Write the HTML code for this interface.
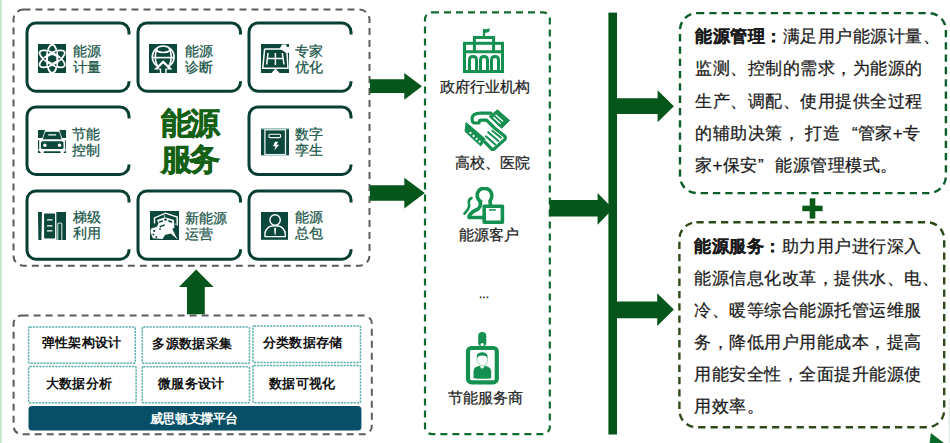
<!DOCTYPE html>
<html><head><meta charset="utf-8"><style>
html,body{margin:0;padding:0;background:#fff;width:950px;height:443px;overflow:hidden}
body{position:relative;font-family:"Liberation Sans",sans-serif}
.t{position:absolute;white-space:nowrap;-webkit-text-stroke:0.25px currentColor}
.c{position:absolute;white-space:nowrap;text-align:center;-webkit-text-stroke:0.25px currentColor}
.ql{display:inline-block;width:17.5px;text-align:right;letter-spacing:0}
.qr{display:inline-block;width:17.5px;text-align:left;letter-spacing:0}
</style></head><body>
<svg width="950" height="443" viewBox="0 0 950 443" style="position:absolute;left:0;top:0">
<rect x="0" y="0" width="1.8" height="443" fill="#c6e5cb"/><rect x="948.5" y="398" width="1.5" height="45" fill="#e3ebe5"/>
<rect x="13.5" y="9.6" width="356.0" height="256.09999999999997" rx="10" ry="10" fill="none" stroke="#5c5c5c" stroke-width="2" stroke-dasharray="7 5"/>
<rect x="13.6" y="315.5" width="358.2" height="118.69999999999999" rx="8" ry="8" fill="none" stroke="#5c5c5c" stroke-width="2" stroke-dasharray="7 5"/>
<g fill="none" stroke="#073f33" stroke-width="3"><path d="M129,34.5 V32 A9,9 0 0 0 120,23 H36 A9,9 0 0 0 27,32 V82.2 A9,9 0 0 0 36,91.2 H120 A9,9 0 0 0 129,82.2 V81.2"/><path d="M240.5,34.5 V32 A9,9 0 0 0 231.5,23 H147 A9,9 0 0 0 138,32 V82.2 A9,9 0 0 0 147,91.2 H231.5 A9,9 0 0 0 240.5,82.2 V81.2"/><path d="M351,34.5 V32 A9,9 0 0 0 342,23 H258 A9,9 0 0 0 249,32 V82.2 A9,9 0 0 0 258,91.2 H342 A9,9 0 0 0 351,82.2 V81.2"/><path d="M129,118.5 V116 A9,9 0 0 0 120,107 H36 A9,9 0 0 0 27,116 V165.4 A9,9 0 0 0 36,174.4 H120 A9,9 0 0 0 129,165.4 V164.4"/><path d="M351,118.5 V116 A9,9 0 0 0 342,107 H258 A9,9 0 0 0 249,116 V165.4 A9,9 0 0 0 258,174.4 H342 A9,9 0 0 0 351,165.4 V164.4"/><path d="M129,202.4 V199.9 A9,9 0 0 0 120,190.9 H36 A9,9 0 0 0 27,199.9 V250.2 A9,9 0 0 0 36,259.2 H120 A9,9 0 0 0 129,250.2 V249.2"/><path d="M240.5,202.4 V199.9 A9,9 0 0 0 231.5,190.9 H147 A9,9 0 0 0 138,199.9 V250.2 A9,9 0 0 0 147,259.2 H231.5 A9,9 0 0 0 240.5,250.2 V249.2"/><path d="M351,202.4 V199.9 A9,9 0 0 0 342,190.9 H258 A9,9 0 0 0 249,199.9 V250.2 A9,9 0 0 0 258,259.2 H342 A9,9 0 0 0 351,250.2 V249.2"/></g>
<g fill="#05561b"><polygon points="196.1,269.4 213.6,287 204.8,287 204.8,314.2 187,314.2 187,287 179,287"/></g>
<g fill="none" stroke="#5cb0ab" stroke-width="1.5" stroke-dasharray="2.2 1">
<rect x="28.6" y="327" width="106.70000000000002" height="36.19999999999999" rx="1" ry="1"/><rect x="142.3" y="327" width="107.19999999999999" height="36.19999999999999" rx="1" ry="1"/><rect x="253" y="326" width="107.5" height="36.60000000000002" rx="1" ry="1"/>
<rect x="28.6" y="366.5" width="107.5" height="36.30000000000001" rx="1" ry="1"/><rect x="142.3" y="366.8" width="107.19999999999999" height="36.0" rx="1" ry="1"/><rect x="253" y="365.5" width="107.5" height="37.30000000000001" rx="1" ry="1"/>
</g>
<rect x="28.5" y="406" width="332.9" height="24.5" rx="3.5" ry="3.5" fill="#064f66"/>
<rect x="425" y="12.3" width="124.79999999999995" height="421.9" rx="7" ry="7" fill="none" stroke="#0f6b2f" stroke-width="2.2" stroke-dasharray="7 5"/>
<rect x="680" y="13.1" width="265.9" height="180.0" rx="17" ry="17" fill="none" stroke="#0b5e2a" stroke-width="2.4" stroke-dasharray="7.3 5"/>
<rect x="679.4" y="222.3" width="264.80000000000007" height="204.89999999999998" rx="17" ry="17" fill="none" stroke="#2f4a1a" stroke-width="2.4" stroke-dasharray="7.3 5"/>
<g fill="#05561b"><polygon points="369.9,79.3 404.3,79.3 404.3,72.9 422,86.2 404.3,99.8 404.3,93 369.9,93"/><polygon points="369.9,185.3 404.3,185.3 404.3,177.7 424.8,193 404.3,208.4 404.3,200.7 369.9,200.7"/><polygon points="549.5,200 597.6,200 597.6,192.9 613,208.7 597.6,224.7 597.6,216.6 549.5,216.6"/><polygon points="614,98.2 657.6,98.2 657.6,90.3 673.9,106.3 657.6,122.2 657.6,114 614,114"/><polygon points="614,301.4 657.2,301.4 657.2,293.3 673.9,309.5 657.2,326 657.2,318.2 614,318.2"/></g>
<rect x="608.4" y="12.6" width="8.6" height="421.9" fill="#05551a"/>
<g fill="#065a16"><rect x="802.3" y="205.7" width="20.3" height="5.5"/><rect x="809.7" y="198.3" width="5.6" height="20.3"/></g>
<polygon points="930.9,433 944,443 929.6,443" fill="#0a6a2a"/>
</svg>
<svg style="position:absolute;left:38.1px;top:43.7px" width="28.4" height="29.6" viewBox="0 0 28.4 29.6"><rect width="28.4" height="29.6" fill="#0b483b"/><ellipse cx="14.2" cy="14.8" rx="5.4" ry="14.2" transform="rotate(0 14.2 14.8)" fill="none" stroke="#fff" stroke-width="1.8"/><ellipse cx="14.2" cy="14.8" rx="5.4" ry="14.2" transform="rotate(60 14.2 14.8)" fill="none" stroke="#fff" stroke-width="1.8"/><ellipse cx="14.2" cy="14.8" rx="5.4" ry="14.2" transform="rotate(120 14.2 14.8)" fill="none" stroke="#fff" stroke-width="1.8"/><polygon points="18.88,17.10 14.20,19.40 9.52,17.10 9.52,12.50 14.20,10.20 18.88,12.50" fill="#0b483b" stroke="#fff" stroke-width="1.1"/><circle cx="21.60" cy="14.80" r="0.8" fill="#0b483b"/><circle cx="17.90" cy="21.21" r="0.8" fill="#0b483b"/><circle cx="10.50" cy="21.21" r="0.8" fill="#0b483b"/><circle cx="6.80" cy="14.80" r="0.8" fill="#0b483b"/><circle cx="10.50" cy="8.39" r="0.8" fill="#0b483b"/><circle cx="17.90" cy="8.39" r="0.8" fill="#0b483b"/></svg>
<svg style="position:absolute;left:148.9px;top:43.9px" width="28.5" height="29.4" viewBox="0 0 28.5 29.4"><rect width="28.5" height="29.4" fill="#0b483b"/><g fill="none" stroke="#fff" stroke-width="1.6"><circle cx="14.2" cy="12.9" r="10.9"/><path d="M3.4,13.6 H25"/><path d="M5.5,5.5 Q14.2,11.5 23,5.5"/><path d="M8.5,3.5 Q4,14 8.5,22"/><path d="M20,3.5 Q24.5,14 20,22"/></g><polygon points="14.2,16.2 23.5,25.6 17.6,25.6 17.6,29.4 10.8,29.4 10.8,25.6 4.9,25.6" fill="#fff"/><polygon points="14.2,19.6 19.3,24.4 16.2,24.4 16.2,29.4 12.2,29.4 12.2,24.4 9.1,24.4" fill="#0b483b"/></svg>
<svg style="position:absolute;left:260.5px;top:43.7px" width="28.4" height="29.5" viewBox="0 0 28.4 29.5"><rect width="28.4" height="29.5" fill="#0b483b"/><g fill="none" stroke="#fff" stroke-width="1.5"><path d="M3.6,5 H22 M26,9 L27,24.2 H1.8 L3.6,5"/><path d="M7,9 L5.7,20.5 M14.4,9 V21 M21.3,9 L23,20.5 M5.8,14.4 H23"/></g><polygon points="10,29.5 14.5,24.5 19,29.5" fill="#fff"/><polygon points="21,0.4 25.8,0.4 28.4,3 28.4,8.8 25.2,9 18.8,4.6" fill="#fff"/><ellipse cx="26.8" cy="1.8" rx="1.6" ry="1.3" fill="#0b483b"/></svg>
<svg style="position:absolute;left:38.1px;top:129.9px" width="28.4" height="23.4" viewBox="0 0 28.4 23.4"><g fill="#0b483b"><path d="M0,0 H7 L4.3,8 H0 Z"/><path d="M28.4,0 H21.4 L24.1,8 H28.4 Z"/><path d="M8.2,1.8 H20.2 Q21.2,1.8 21.6,2.8 L23.6,9.2 H4.8 L6.8,2.8 Q7.2,1.8 8.2,1.8 Z"/><rect x="2.9" y="11.2" width="22.6" height="7.8" rx="1.6"/><rect x="5.7" y="21.3" width="17" height="2.1" rx="1"/><path d="M0,19.8 L3.6,23.4 H0 Z"/><path d="M28.4,19.8 L24.8,23.4 H28.4 Z"/><rect x="0" y="10.2" width="1.2" height="9"/><rect x="27.2" y="10.2" width="1.2" height="9"/></g><rect x="10.1" y="4.3" width="8.2" height="1.3" rx="0.6" fill="#fff"/><circle cx="6.9" cy="15.2" r="1.7" fill="#fff"/><circle cx="21.5" cy="15.2" r="1.7" fill="#fff"/></svg>
<svg style="position:absolute;left:260.5px;top:127.5px" width="28.4" height="28.4" viewBox="0 0 28.4 28.4"><rect width="28.4" height="28.4" fill="#0b483b"/><rect x="0" y="0" width="28.4" height="1.4" fill="#9fc4bc"/><rect x="0" y="27" width="28.4" height="1.4" fill="#9fc4bc"/><rect x="3.9" y="1.8" width="20.6" height="24.8" fill="none" stroke="#e8f0ee" stroke-width="1.3"/><rect x="7.8" y="6.2" width="12" height="3.4" rx="1.7" fill="none" stroke="#fff" stroke-width="1.1"/><polygon points="14,13.8 17.2,13.8 15.4,16.8 18.2,16.8 13.3,22.5 14.6,18.2 12,18.2" fill="#fff"/></svg>
<svg style="position:absolute;left:38.1px;top:211.9px" width="28.4" height="28.4" viewBox="0 0 28.4 28.4"><g fill="#0b483b"><path d="M0,0 H4 L3.4,28.4 H0.4 Z"/><rect x="6.1" y="1.6" width="11" height="24.8" rx="0.8"/><path d="M18.3,0 H28.4 V28.4 H18.6 Z"/></g><g fill="#fff"><rect x="8.9" y="7.2" width="5.7" height="1.3" rx="0.6"/><rect x="8.9" y="13.3" width="5.7" height="1.3" rx="0.6"/><rect x="8.9" y="18.2" width="5.7" height="1.3" rx="0.6"/></g><path d="M19.8,28.4 V12 Q19.8,11 21,11 H22.6 Q23.8,11 23.8,12 V28.4" fill="none" stroke="#cfe0dc" stroke-width="1.1"/></svg>
<svg style="position:absolute;left:149.7px;top:210.7px" width="29.2" height="29.5" viewBox="0 0 29.2 29.5"><rect width="29.2" height="29.5" fill="#0b483b"/><path d="M4.5,12.6 V6.9 L15.4,2.2 L27.2,6.1 V14.6" fill="none" stroke="#fff" stroke-width="1.4"/><path d="M7,9 L15,6.2 L24,9 L24.4,16.7 L22.3,17.9 L27.6,28.5 L20.7,22.4 L15,24 L12.6,28 L2.8,27.2 L0.3,20.7 L1.2,17.5 L7,15.8 L8.5,12.6 Z" fill="#fff"/><g fill="#0b483b"><ellipse cx="11" cy="10.5" rx="2.6" ry="0.9" transform="rotate(-18 11 10.5)"/><ellipse cx="15.5" cy="8.6" rx="1.5" ry="1.1"/><ellipse cx="20" cy="10.4" rx="2.6" ry="0.9" transform="rotate(18 20 10.4)"/><circle cx="4.2" cy="20" r="1.1"/><circle cx="3.4" cy="23.6" r="1"/><circle cx="6.4" cy="26" r="1"/><circle cx="10" cy="18" r="0.9"/><path d="M9.5,15 L14.5,13.2 L15,14.6 L10,16.4 Z"/></g><g fill="#fff"><circle cx="23" cy="12.5" r="0.8"/><circle cx="25.5" cy="13" r="0.6"/><circle cx="14.5" cy="5" r="0.7"/></g></svg>
<svg style="position:absolute;left:260.5px;top:211.8px" width="27.8" height="27.8" viewBox="0 0 27.8 27.8"><rect width="27.8" height="27.8" fill="#0b483b"/><g fill="none" stroke="#fff" stroke-width="1.4"><circle cx="14.1" cy="8" r="5.2"/><path d="M4,24.6 Q3,18.2 8.5,14.6 Q14.1,12.8 19.7,14.6 Q25.2,18.2 24.2,24.6 Z"/></g><polygon points="14.1,15.6 15.2,16.6 14.6,22.6 14.1,23 13.6,22.6 13,16.6" fill="#fff"/></svg>
<svg style="position:absolute;left:463px;top:28px" width="41" height="45.5" viewBox="0 0 41 45.5"><g fill="none" stroke="#149150" stroke-width="3"><rect x="1.5" y="15.3" width="38" height="28.2"/><path d="M11.4,15.3 V9.5 H30.6 V15.3 M11.4,23.8 H30.6 V15.3 M11.4,15.3 V23.8 M1.5,23.8 H39.5"/><path d="M6.5,43.5 V32 Q6.5,28.5 10,28.5 Q13.5,28.5 13.5,32 V43.5 M17.5,43.5 V32 Q17.5,28.5 21,28.5 Q24.5,28.5 24.5,32 V43.5 M28.5,43.5 V32 Q28.5,28.5 32,28.5 Q35.5,28.5 35.5,32 V43.5"/></g><path d="M21,9.5 V1" stroke="#149150" stroke-width="2.2"/><path d="M21,1.5 L27,0.5 L26,4 L21,5.2 Z" fill="#149150"/></svg>
<svg style="position:absolute;left:460px;top:105px" width="50" height="46" viewBox="0 0 50 46"><g fill="#149150" stroke="#149150" stroke-width="1" stroke-linejoin="round"><polygon points="37.5,4.8 49.5,15.4 41.6,23.2 29.2,11.6"/><polygon points="6.2,17.6 25.2,34 20.8,41 5,26.4"/></g><g fill="none" stroke="#fff" stroke-width="1.3"><path d="M35.5,9.8 L43,16.6 M33.3,12 L40.6,18.8"/></g><g fill="#fff"><circle cx="10.4" cy="28" r="1.15"/><circle cx="13.6" cy="31" r="1.15"/><circle cx="16.6" cy="33.8" r="1.15"/><circle cx="19.6" cy="36.6" r="1.15"/></g><g fill="none" stroke="#149150" stroke-width="3.2" stroke-linejoin="round" stroke-linecap="round"><path d="M31,8.2 H20.5 Q12.5,8.5 12.1,13 Q12,18 14.5,18 H18 Q19.3,18 19.3,16.5 Q19.5,15.2 21,15.2 H26.6 L34.5,23 L44.8,31.2 Q46,33 44.6,34.6 L33.8,44.2 Q32.6,45 31.6,44 L25,37.2"/></g><g fill="none" stroke="#149150" stroke-width="2" stroke-linecap="round"><path d="M32.3,25.8 L41,32.7 M28.2,27.2 L38.4,36 M25.9,31.3 L35.2,39.6"/></g></svg>
<svg style="position:absolute;left:463.3px;top:187.4px" width="41.5" height="37" viewBox="0 0 41.5 37"><g fill="none" stroke="#149150" stroke-width="3.6" stroke-linejoin="round"><path d="M19,15.5 Q13,12 14.5,6 Q16.5,1 21.5,1.5 Q27,1.5 28.5,6.5 Q29.5,11 27,14 L27.5,18"/><path d="M17,14.5 Q18.5,19 15,22 Q6,26 6,30.5 H20.5"/><rect x="21.2" y="19.2" width="18.2" height="16"/></g><path d="M8.5,11 Q5,12.5 6,17 Q7,21 1.5,26.5" fill="none" stroke="#149150" stroke-width="2.6" stroke-linecap="round"/><rect x="26" y="22.2" width="6.8" height="1.5" fill="#149150"/></svg>
<svg style="position:absolute;left:465.1px;top:332.4px" width="35" height="53" viewBox="0 0 35 53"><rect x="13.2" y="0" width="8.1" height="14.5" rx="4" fill="#149150"/><circle cx="17.2" cy="12.6" r="1.7" fill="#fff"/><rect x="3" y="16" width="28.8" height="34.4" rx="3.5" fill="none" stroke="#149150" stroke-width="4.2"/><path d="M11.8,26.5 Q11,20 17.2,20.2 Q23.2,20 22.6,26.5 Q21.8,23.6 17.2,23.6 Q12.8,23.6 11.8,26.5 Z" fill="#149150"/><ellipse cx="17.2" cy="27.6" rx="5.2" ry="6.2" fill="none" stroke="#149150" stroke-width="0.7" opacity="0.6"/><path d="M8.5,46.2 V39.5 Q8.6,35.2 13,34.2 L14.8,33.8 L17.2,38.8 L19.6,33.8 L21.4,34.2 Q26,35.2 26.2,39.5 V46.2 Q17.3,47.2 8.5,46.2 Z" fill="#149150"/><polygon points="16.6,35.8 17.8,35.8 18.3,40.2 17.2,41.6 16.1,40.2" fill="#149150"/></svg>
<div class="t" style="left:72.6px;top:43px;font-size:14px;color:#175448;font-weight:400;line-height:16px;letter-spacing:0.1px">能源<br>计量</div><div class="t" style="left:184.7px;top:43px;font-size:14px;color:#175448;font-weight:400;line-height:16px;letter-spacing:0.1px">能源<br>诊断</div><div class="t" style="left:295.2px;top:43px;font-size:14px;color:#175448;font-weight:400;line-height:16px;letter-spacing:0.1px">专家<br>优化</div><div class="t" style="left:72.3px;top:126.3px;font-size:14px;color:#175448;font-weight:400;line-height:16px;letter-spacing:0.1px">节能<br>控制</div><div class="t" style="left:295.1px;top:126px;font-size:14px;color:#175448;font-weight:400;line-height:16px;letter-spacing:0.1px">数字<br>孪生</div><div class="t" style="left:72.7px;top:209px;font-size:14px;color:#175448;font-weight:400;line-height:16px;letter-spacing:0.1px">梯级<br>利用</div><div class="t" style="left:184.6px;top:209.8px;font-size:14px;color:#175448;font-weight:400;line-height:16px;letter-spacing:0.1px">新能源<br>运营</div><div class="t" style="left:295.1px;top:209px;font-size:14px;color:#175448;font-weight:400;line-height:16px;letter-spacing:0.1px">能源<br>总包</div><div class="t" style="left:161.3px;top:105.5px;font-size:31px;color:#146014;font-weight:700;line-height:36px;letter-spacing:-3px;-webkit-text-stroke:0.6px #146014">能源<br>服务</div><div class="c" style="left:21.799999999999997px;top:333px;width:120px;font-size:13px;font-weight:700;color:#111;line-height:20px;letter-spacing:0.3px;-webkit-text-stroke:0">弹性架构设计</div><div class="c" style="left:132.4px;top:334.4px;width:120px;font-size:13px;font-weight:700;color:#111;line-height:20px;letter-spacing:0.3px;-webkit-text-stroke:0">多源数据采集</div><div class="c" style="left:242.7px;top:333.3px;width:120px;font-size:13px;font-weight:700;color:#111;line-height:20px;letter-spacing:0.3px;-webkit-text-stroke:0">分类数据存储</div><div class="c" style="left:19px;top:373.6px;width:120px;font-size:13px;font-weight:700;color:#111;line-height:20px;letter-spacing:0.3px;-webkit-text-stroke:0">大数据分析</div><div class="c" style="left:131.4px;top:373.6px;width:120px;font-size:13px;font-weight:700;color:#111;line-height:20px;letter-spacing:0.3px;-webkit-text-stroke:0">微服务设计</div><div class="c" style="left:242.3px;top:373.6px;width:120px;font-size:13px;font-weight:700;color:#111;line-height:20px;letter-spacing:0.3px;-webkit-text-stroke:0">数据可视化</div><div class="c" style="left:134px;top:408.5px;width:120px;font-size:13px;font-weight:700;color:#fff;line-height:20px;letter-spacing:-0.4px;-webkit-text-stroke:0">威思顿支撑平台</div><div class="c" style="left:425px;top:77.3px;width:120px;font-size:15px;color:#222;line-height:20px">政府行业机构</div><div class="c" style="left:432.9px;top:152.6px;width:120px;font-size:15px;color:#222;line-height:20px">高校、医院</div><div class="c" style="left:429.4px;top:224.5px;width:120px;font-size:15px;color:#222;line-height:20px">能源客户</div><div class="c" style="left:425px;top:388px;width:120px;font-size:15px;color:#222;line-height:20px">节能服务商</div><div class="c" style="left:424px;top:284px;width:120px;font-size:12px;color:#222;line-height:20px">...</div><div class="t" style="left:695px;top:21.200000000000003px;font-size:17px;letter-spacing:0.5px;line-height:32.2px;color:#1a1a1a"><b>能源管理：</b>满足用户能源计量、<br>监测、控制的需求，为能源的<br>生产、调配、使用提供全过程<br>的辅助决策， 打造<span class="ql">“</span>管家+专<br>家+保安<span class="qr">”</span>能源管理模式。</div><div class="t" style="left:694px;top:231.3px;font-size:17px;letter-spacing:0.5px;line-height:32px;color:#1a1a1a"><b>能源服务：</b>助力用户进行深入<br>能源信息化改革，提供水、电、<br>冷、暖等综合能源托管运维服<br>务，降低用户用能成本，提高<br>用能安全性，全面提升能源使<br>用效率。</div>
</body></html>
